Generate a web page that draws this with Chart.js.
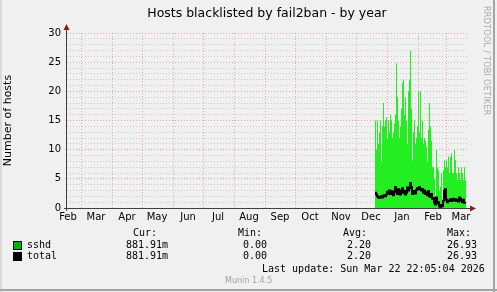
<!DOCTYPE html>
<html>
<head>
<meta charset="utf-8">
<script src="https://cdn.jsdelivr.net/npm/chart.js@4"></script>
<style>
  html, body { margin: 0; padding: 0; background: #f0f0f0; }
  #wrap { position: relative; width: 497px; height: 292px; background: #f0f0f0; overflow: hidden; }
  #wrap canvas { position: absolute; left: 0; top: 0; }
  .edge-r { position: absolute; left: 493px; top: 0; width: 2px; height: 292px; background: #a4a4a4; }
  .edge-b { position: absolute; left: 0; top: 289px; width: 497px; height: 2px; background: #a4a4a4; }
  .edge-l { position: absolute; left: 0; top: 0; width: 2px; height: 292px; background: #dadada; }
  .t { position: absolute; font: 10px "DejaVu Sans Mono", monospace; line-height: 12px; color: #000; white-space: pre; }
  .sw { position: absolute; width: 7px; height: 7px; border: 1px solid #000; }
  .munin { position: absolute; font: 8px "DejaVu Sans", sans-serif; color: #a0a0a0; line-height: 10px; }
  .rrd { position: absolute; left: 481px; top: 6px; font: 8px "DejaVu Sans", sans-serif; color: #a8a8a8;
         writing-mode: vertical-rl; line-height: 10px; letter-spacing: 0.3px; }
</style>
</head>
<body>
<div id="wrap">
  <canvas id="graph" width="497" height="292"></canvas>
  <div class="edge-l"></div>
  <div class="edge-r"></div>
  <div class="edge-b"></div>
  <div class="rrd">RRDTOOL / TOBI OETIKER</div>

  <div class="t" style="left:133px;top:227px">Cur:</div>
  <div class="t" style="left:238px;top:227px">Min:</div>
  <div class="t" style="left:343px;top:227px">Avg:</div>
  <div class="t" style="left:447px;top:227px">Max:</div>

  <div class="sw" style="left:13px;top:241px;background:#00b400"></div>
  <div class="t" style="left:27px;top:239px">sshd</div>
  <div class="t" style="left:126px;top:239px">881.91m</div>
  <div class="t" style="left:243px;top:239px">0.00</div>
  <div class="t" style="left:347px;top:239px">2.20</div>
  <div class="t" style="left:447px;top:239px">26.93</div>

  <div class="sw" style="left:13px;top:252px;background:#000"></div>
  <div class="t" style="left:27px;top:250px">total</div>
  <div class="t" style="left:126px;top:250px">881.91m</div>
  <div class="t" style="left:243px;top:250px">0.00</div>
  <div class="t" style="left:347px;top:250px">2.20</div>
  <div class="t" style="left:447px;top:250px">26.93</div>

  <div class="t" style="left:262px;top:263px">Last update: Sun Mar 22 22:05:04 2026</div>
  <div class="munin" style="left:225px;top:276px">Munin 1.4.5</div>
</div>

<script>
////////////////////////// data ////////////////////////////////
// x axis = days since Feb 15 2025 (400 days, ends Mar 22 2026)
var monthLabels = ['Feb', 'Mar', 'Apr', 'May', 'Jun', 'Jul', 'Aug', 'Sep', 'Oct', 'Nov', 'Dec', 'Jan', 'Feb', 'Mar'];
var monthLabelDays = [1, 29, 60, 90, 121, 151, 182, 213, 243, 274, 304, 335, 366, 394];
var monthStartDays = [14, 45, 75, 106, 136, 167, 198, 228, 259, 289, 320, 351, 379];
var yTicks = [0, 5, 10, 15, 20, 25, 30];

// first sample on Dec 20 2025 (day 308), one value per day
var firstDay = 308;
var sshd = [15, 10, 15, 11, 13, 15, 8, 14, 18, 14, 15, 15.5, 12, 15, 13, 16, 15, 12, 13, 14.5,
  16, 24.8, 19, 15, 12, 14, 17, 21.5, 22, 16, 19, 15, 11, 20, 22, 26.93, 17, 8.2, 13, 15,
  11, 12, 14, 20, 13, 20, 12, 15, 11, 12, 11.5, 10.5, 8, 13.4, 18, 14, 11.5, 7, 7, 5,
  2, 10, 7, 6.5, 3, 3.6, 6, 1.5, 6.5, 8.2, 7, 8.2, 7, 8.8, 6, 8.8, 9.4, 6, 6, 10,
  8.2, 6, 4.8, 7, 6, 4.8, 7, 6, 4.8, 7, 4.8];
var total = [2.6, 2.3, 2.0, 1.8, 1.7, 1.9, 2.0, 1.8, 2.1, 2.2, 2.0, 2.3, 2.8, 2.5, 3.0, 2.4, 2.9, 2.6, 2.2, 2.8,
  3.6, 2.7, 2.4, 3.2, 2.9, 2.3, 3.0, 3.4, 2.6, 2.9, 2.3, 2.6, 3.5, 3.0, 3.4, 4.3, 3.6, 2.4, 2.6, 2.9,
  2.5, 3.1, 3.4, 3.2, 3.6, 3.3, 3.0, 3.2, 2.6, 3.0, 2.4, 2.7, 2.2, 2.9, 2.0, 1.9, 2.4, 1.6, 1.7, 0.9,
  0.6, 1.8, 0.8, 1.0, 0.3, 0.0, 0.5, 0.3, 1.2, 2.9, 3.2, 1.4, 1.0, 1.3, 1.2, 1.5, 1.2, 1.4, 1.6, 1.3,
  1.5, 1.2, 1.4, 1.1, 1.8, 1.6, 1.3, 1.0, 1.4, 0.9, 0.9];

function toPoints(values) {
  var pts = values.map(function (v, i) { return { x: firstDay + i, y: v }; });
  // close the last step
  pts.push({ x: firstDay + values.length, y: values[values.length - 1] });
  return pts;
}

var majorGrid = 'rgba(228, 140, 140, 0.75)';
var minorGrid = 'rgba(170, 170, 170, 0.55)';

// axis lines + little arrow heads, rrdtool style
var axisArrows = {
  id: 'axisArrows',
  afterDatasetsDraw: function (chart) {
    var a = chart.chartArea;
    var ctx = chart.ctx;
    ctx.save();
    ctx.strokeStyle = '#404040';
    ctx.lineWidth = 1;
    ctx.beginPath();
    ctx.moveTo(Math.round(a.left) - 0.5, a.bottom + 3);
    ctx.lineTo(Math.round(a.left) - 0.5, a.top - 4);
    ctx.moveTo(a.left - 3, Math.round(a.bottom) + 0.5);
    ctx.lineTo(a.right + 5, Math.round(a.bottom) + 0.5);
    ctx.stroke();
    ctx.fillStyle = '#8b1a1a';
    var x = Math.round(a.left) - 0.5, y = a.top - 4;
    ctx.beginPath();
    ctx.moveTo(x - 3, y + 1);
    ctx.lineTo(x, y - 5);
    ctx.lineTo(x + 3, y + 1);
    ctx.closePath();
    ctx.fill();
    var bx = a.right + 4, by = Math.round(a.bottom) + 0.5;
    ctx.beginPath();
    ctx.moveTo(bx - 1, by - 3);
    ctx.lineTo(bx + 5, by);
    ctx.lineTo(bx - 1, by + 3);
    ctx.closePath();
    ctx.fill();
    ctx.restore();
  }
};

var ctx = document.getElementById('graph').getContext('2d');
var graph = new Chart(ctx, {
  type: 'line',
  data: {
    datasets: [
      {
        label: 'sshd',
        data: toPoints(sshd),
        order: 2,
        stepped: true,
        borderWidth: 0,
        borderColor: 'rgba(0,0,0,0)',
        backgroundColor: '#22ee22',
        fill: 'origin',
        pointRadius: 0
      },
      {
        label: 'total',
        data: toPoints(total),
        order: 1,
        stepped: true,
        borderWidth: 2,
        borderColor: '#000000',
        fill: false,
        pointRadius: 0
      }
    ]
  },
  options: {
    responsive: false,
    animation: false,
    devicePixelRatio: 1,
    layout: { padding: { left: 0, right: 30, top: 0, bottom: 64 } },
    plugins: {
      legend: { display: false },
      tooltip: { enabled: false },
      title: {
        display: true,
        fullSize: false,
        text: 'Hosts blacklisted by fail2ban - by year',
        color: '#000',
        font: { family: 'DejaVu Sans', size: 12.5, weight: 'normal' },
        padding: { top: 6, bottom: 12 }
      }
    },
    scales: {
      x: {
        type: 'linear',
        min: 0,
        max: 400,
        afterBuildTicks: function (scale) {
          scale.ticks = monthStartDays.concat(monthLabelDays).map(function (v) { return { value: v }; });
        },
        afterFit: function (scale) { scale.height = 20; },
        ticks: {
          autoSkip: false,
          maxRotation: 0,
          padding: 3,
          color: '#000',
          font: { family: 'DejaVu Sans', size: 10 },
          callback: function (value) {
            var i = monthLabelDays.indexOf(value);
            return i >= 0 ? monthLabels[i] : '';
          }
        },
        grid: {
          drawTicks: false,
          lineWidth: 1,
          color: function (c) {
            return c.tick && monthStartDays.indexOf(c.tick.value) >= 0 ? majorGrid : 'rgba(0,0,0,0)';
          }
        },
        border: { display: false, dash: [1, 2] }
      },
      y: {
        min: 0,
        max: 30,
        afterFit: function (scale) { scale.width = 67; },
        ticks: {
          stepSize: 1,
          autoSkip: false,
          padding: 6,
          color: '#000',
          font: { family: 'DejaVu Sans', size: 10 },
          callback: function (value) {
            return yTicks.indexOf(value) >= 0 ? value : '';
          }
        },
        grid: {
          drawTicks: false,
          lineWidth: 1,
          color: function (c) {
            if (!c.tick) return minorGrid;
            return yTicks.indexOf(c.tick.value) >= 0 ? majorGrid : minorGrid;
          }
        },
        border: { display: false, dash: [1, 2] },
        title: {
          display: true,
          text: 'Number of hosts',
          color: '#000',
          font: { family: 'DejaVu Sans', size: 11 },
          padding: { top: 2, bottom: 0 }
        }
      }
    }
  },
  plugins: [axisArrows]
});
</script>
</body>
</html>
